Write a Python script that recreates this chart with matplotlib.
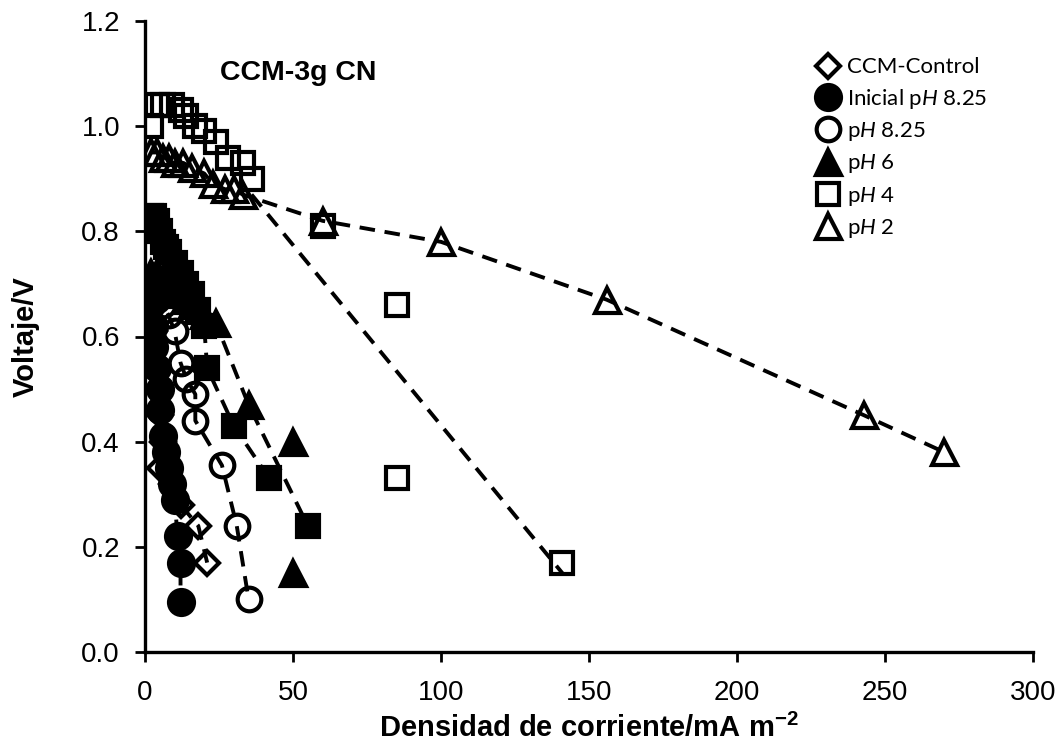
import matplotlib
matplotlib.use("Agg")
import matplotlib.pyplot as plt
from matplotlib.lines import Line2D

plt.rcParams["mathtext.fontset"] = "custom"
plt.rcParams["mathtext.rm"] = "Lato"
plt.rcParams["mathtext.it"] = "Lato:italic"
plt.rcParams["mathtext.bf"] = "Liberation Sans:bold"

# Polarization data: current density (mA m-2) vs cell voltage (V)
control_x = [1, 2, 3, 3, 4, 5, 5, 6, 9, 12, 18, 21]
control_y = [0.70, 0.66, 0.61, 0.55, 0.50, 0.45, 0.35, 0.40, 0.32, 0.28, 0.24, 0.17]

inicial_x = [1, 2, 3, 3, 4, 5, 5, 6, 7, 8, 9, 10, 11, 12, 12]
inicial_y = [0.68, 0.66, 0.62, 0.58, 0.54, 0.50, 0.46, 0.41, 0.38, 0.35, 0.32, 0.29, 0.22, 0.17, 0.095]

ph825_x = [2, 4, 6, 8, 10, 12, 14, 17, 17, 26, 31, 35]
ph825_y = [0.68, 0.67, 0.66, 0.64, 0.61, 0.55, 0.52, 0.49, 0.44, 0.355, 0.24, 0.10]

ph6_x = [2, 4, 6, 8, 10, 12, 14, 16, 18, 20, 24, 35, 50, 50]
ph6_y = [0.72, 0.72, 0.71, 0.70, 0.69, 0.68, 0.67, 0.66, 0.65, 0.64, 0.625, 0.47, 0.40, 0.15]
ph6_fit_x = [2, 8, 16, 24, 35, 55]
ph6_fit_y = [0.72, 0.70, 0.66, 0.625, 0.47, 0.24]

sq_x = [2, 3, 4, 5, 6, 7, 8, 10, 12, 14, 16, 18, 20, 21, 30, 42, 55]
sq_y = [0.83, 0.83, 0.82, 0.80, 0.78, 0.77, 0.76, 0.74, 0.72, 0.70, 0.68, 0.65, 0.62, 0.54, 0.43, 0.33, 0.24]
sq_line_x = sq_x[:-1]
sq_line_y = sq_y[:-1]

ph4_x = [2, 4, 6, 9, 12, 14, 17, 20, 24, 28, 33, 36, 60, 85, 85, 141]
ph4_y = [1.00, 1.04, 1.04, 1.04, 1.03, 1.02, 1.00, 0.99, 0.97, 0.94, 0.93, 0.90, 0.81, 0.66, 0.33, 0.17]
ph4_fit_x = [36, 141]
ph4_fit_y = [0.87, 0.15]

ph2_x = [2, 4, 6, 8, 10, 13, 16, 20, 23, 27, 30, 33, 60, 100, 156, 243, 270]
ph2_y = [0.95, 0.95, 0.94, 0.94, 0.93, 0.93, 0.92, 0.91, 0.89, 0.88, 0.88, 0.87, 0.82, 0.78, 0.67, 0.45, 0.38]

x_ticks = [0, 50, 100, 150, 200, 250, 300]
y_ticks = [0.0, 0.2, 0.4, 0.6, 0.8, 1.0, 1.2]

fig = plt.figure(figsize=(10.64, 7.51), dpi=100)
ax = fig.add_axes([145 / 1064, 1 - 652 / 751, 888 / 1064, 631 / 751])

dash = dict(color="black", linestyle=(0, (4, 2.5)), linewidth=2.8, zorder=2)
ms = 18
mew = 3.0

# dashed trend lines
ax.plot(control_x, control_y, **dash)
ax.plot(inicial_x, inicial_y, **dash)
ax.plot(ph825_x, ph825_y, **dash)
ax.plot(ph6_fit_x, ph6_fit_y, **dash)
ax.plot(sq_line_x, sq_line_y, **dash)
ax.plot(ph4_fit_x, ph4_fit_y, **dash)
ax.plot(ph2_x, ph2_y, **dash)

# markers
ax.plot(sq_x, sq_y, linestyle="none", marker="s", ms=ms - 2, mfc="black", mec="black", mew=mew, zorder=3)
ax.plot(control_x, control_y, linestyle="none", marker="D", ms=ms - 6, mfc="none", mec="black", mew=mew, zorder=3)
ax.plot(inicial_x, inicial_y, linestyle="none", marker="o", ms=ms, mfc="black", mec="black", mew=mew, zorder=3)
ax.plot(ph825_x, ph825_y, linestyle="none", marker="o", ms=ms - 1, mfc="none", mec="black", mew=mew, zorder=3)
ax.plot(ph6_x, ph6_y, linestyle="none", marker="^", ms=ms, mfc="black", mec="black", mew=mew, zorder=3)
ax.plot(ph4_x, ph4_y, linestyle="none", marker="s", ms=ms - 2, mfc="none", mec="black", mew=mew, zorder=3)
ax.plot(ph2_x, ph2_y, linestyle="none", marker="^", ms=ms, mfc="none", mec="black", mew=mew, zorder=3)

ax.set_xlim(0, 300)
ax.set_ylim(0, 1.2)
ax.set_xticks(x_ticks)
ax.set_yticks(y_ticks)
ax.set_xticklabels([str(v) for v in x_ticks], fontfamily="Liberation Sans", fontsize=20)
ax.set_yticklabels([f"{v:.1f}" for v in y_ticks], fontfamily="Liberation Sans", fontsize=20)
ax.tick_params(direction="out", length=7, width=2)
ax.tick_params(axis="x", pad=13)
ax.tick_params(axis="y", pad=11)
for side in ("top", "right"):
    ax.spines[side].set_visible(False)
for side in ("left", "bottom"):
    ax.spines[side].set_linewidth(2.4)

ax.set_xlabel(r"Densidad de corriente/mA m$\mathbf{^{-2}}$", fontfamily="Liberation Sans",
              fontweight="bold", fontsize=21, labelpad=6)
ax.set_ylabel("Voltaje/V", fontfamily="Liberation Sans", fontweight="bold", fontsize=21, labelpad=30)

ax.text(0.084, 0.918, "CCM-3g CN", transform=ax.transAxes, fontfamily="Liberation Sans",
        fontweight="bold", fontsize=20.5, va="center", ha="left")

handles = [
    Line2D([], [], linestyle="none", marker="D", ms=ms - 6, mfc="none", mec="black", mew=mew),
    Line2D([], [], linestyle="none", marker="o", ms=ms, mfc="black", mec="black", mew=mew),
    Line2D([], [], linestyle="none", marker="o", ms=ms - 1, mfc="none", mec="black", mew=mew),
    Line2D([], [], linestyle="none", marker="^", ms=ms, mfc="black", mec="black", mew=mew),
    Line2D([], [], linestyle="none", marker="s", ms=ms - 2, mfc="none", mec="black", mew=mew),
    Line2D([], [], linestyle="none", marker="^", ms=ms, mfc="none", mec="black", mew=mew),
]
labels = ["CCM-Control", r"Inicial p$\mathit{H}$ 8.25", r"p$\mathit{H}$ 8.25",
          r"p$\mathit{H}$ 6", r"p$\mathit{H}$ 4", r"p$\mathit{H}$ 2"]
ax.legend(handles, labels, loc="upper left", bbox_to_anchor=(0.74, 0.967), frameon=False,
          prop={"family": "Lato", "size": 16}, handlelength=0.9, handletextpad=0.4,
          labelspacing=0.42, borderpad=0.2)

fig.savefig("out.png", dpi=100)
